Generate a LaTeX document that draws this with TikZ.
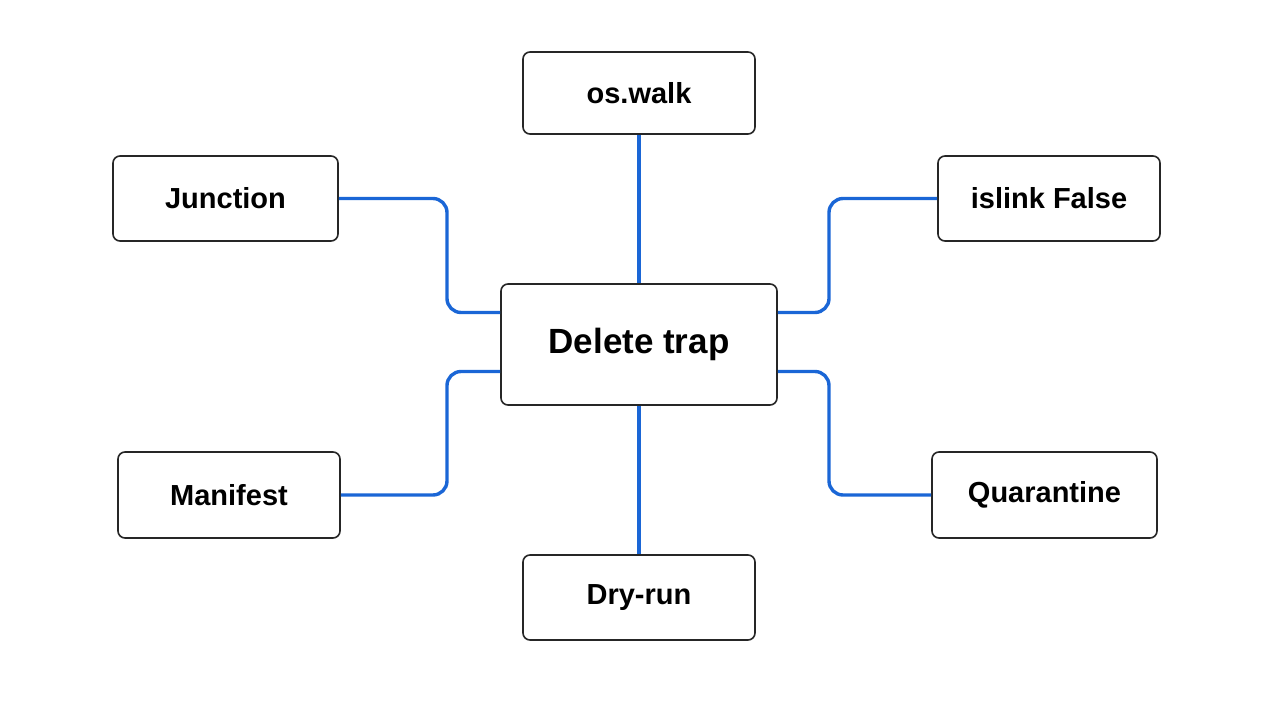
\documentclass[tikz,border=0pt]{standalone}
\usepackage{fontspec}
\setmainfont{Liberation Sans}
\begin{document}
\begin{tikzpicture}[x=1pt,y=-1pt]
\definecolor{lk}{HTML}{1A66D6}
\tikzset{
  box/.style={draw=black!85,line width=1.6pt,rounded corners=7pt,fill=white,font=\fontsize{29}{32}\selectfont\bfseries,inner sep=0pt},
  link/.style={draw=lk,line width=3.4pt,rounded corners=14pt}}
\useasboundingbox (0,0) rectangle (1280,720);
\node[box,minimum width=232pt,minimum height=82pt] (os) at (639,93) {os.walk};
\node[box,minimum width=225pt,minimum height=85pt] (jn) at (225.5,198.5) {Junction};
\node[box,minimum width=222pt,minimum height=85pt] (il) at (1049,198.5) {islink False};
\node[box,minimum width=276pt,minimum height=121pt,font=\fontsize{35}{38}\selectfont\bfseries] (dt) at (639,344.5) {Delete trap};
\node[box,minimum width=222pt,minimum height=86pt] (mf) at (229,495) {Manifest};
\node[box,minimum width=225pt,minimum height=86pt] (qu) at (1044.5,495) {Quarantine};
\node[box,minimum width=232pt,minimum height=85pt] (dr) at (639,597.5) {Dry-run};
\draw[link] (os.south) -- (dt.north);
\draw[link] (dt.south) -- (dr.north);
\draw[link] (jn.east) -| (447,250) |- ([yshift=32pt]dt.west);
\draw[link] (mf.east) -| (447,430) |- ([yshift=-27pt]dt.west);
\draw[link] (il.west) -| (829,250) |- ([yshift=32pt]dt.east);
\draw[link] (qu.west) -| (829,430) |- ([yshift=-27pt]dt.east);
\end{tikzpicture}
\end{document}
